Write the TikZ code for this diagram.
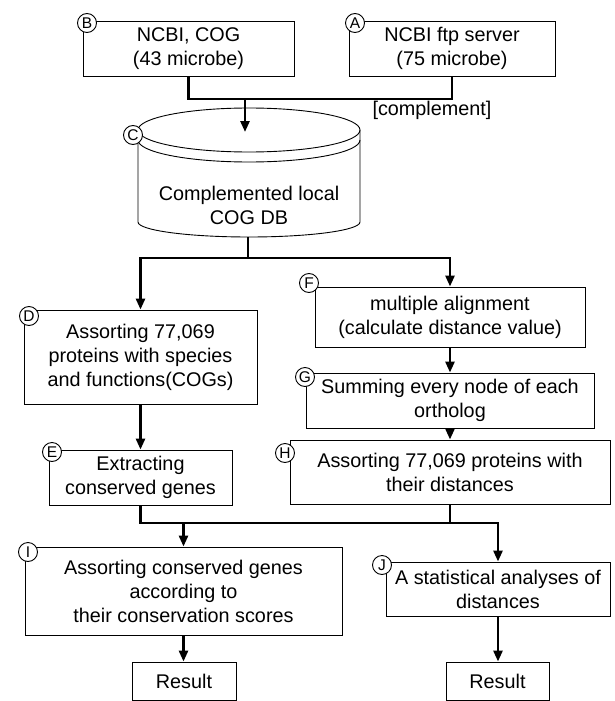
\documentclass[tikz,border=0pt]{standalone}
\usepackage{fontspec}
\setmainfont{Liberation Sans}
\usetikzlibrary{arrows.meta}
\begin{document}
\begin{tikzpicture}[x=1pt,y=-1pt,
  txt/.style={align=center, inner sep=0pt, font=\fontsize{19.8}{24}\selectfont},
  box/.style={txt, draw, line width=0.9pt},
  tag/.style={draw, circle, fill=white, line width=0.9pt, minimum size=19pt, inner sep=0pt, font=\fontsize{15.5}{15.5}\selectfont},
  conn/.style={line width=2.6pt},
  arr/.style={line width=2.6pt, -{Triangle[length=11pt,width=9pt]}},
]
\useasboundingbox (0,0) rectangle (614,701);

% boxes
\node[box, minimum width=211pt, minimum height=55pt] (B) at (188.5,48.5) {NCBI, COG\\(43 microbe)};
\node[box, minimum width=206pt, minimum height=55pt] (A) at (452,48.5) {NCBI ftp server\\(75 microbe)};

% cylinder C
\draw[line width=0.9pt] (249,130) ellipse [x radius=111pt, y radius=22pt];
\draw[line width=0.9pt] (138,140) arc[start angle=180, end angle=360, x radius=111pt, y radius=22pt];
\draw[line width=0.9pt] (138,130) -- (138,222) arc[start angle=180, end angle=360, x radius=111pt, y radius=15pt] -- (360,130);
\node[txt] (C) at (249,205.5) {Complemented local\\COG DB};
\coordinate (Cin) at (245,132);
\coordinate (Cout) at (248,237);

\node[box, minimum width=233pt, minimum height=94pt] (D) at (140.5,357) {Assorting 77,069\\proteins with species\\and functions(COGs)};
\node[box, minimum width=270pt, minimum height=60pt] (F) at (450,317) {multiple alignment\\(calculate distance value)};
\node[box, minimum width=288pt, minimum height=55pt] (G) at (450,400.5) {Summing every node of each\\ortholog};
\node[box, minimum width=183pt, minimum height=55pt] (E) at (140.5,477.5) {Extracting\\conserved genes};
\node[box, minimum width=320pt, minimum height=64pt] (H) at (450,472) {Assorting 77,069 proteins with\\their distances};
\node[box, minimum width=317pt, minimum height=88pt] (I) at (183.5,591) {Assorting conserved genes\\according to\\their conservation scores};
\node[box, minimum width=224pt, minimum height=54pt] (J) at (498,589) {A statistical analyses of\\distances};
\node[box, minimum width=104pt, minimum height=38pt] (R1) at (184,681) {Result};
\node[box, minimum width=103pt, minimum height=38pt] (R2) at (497.5,681) {Result};

\node[txt] (comp) at (432,110) {[complement]};

% connectors
\coordinate (j1) at (245,99);
\draw[conn] (B.south) |- (A.south |- j1) -- (A.south);
\draw[arr] (j1) -- (Cin);

\coordinate (j2) at (248,258);
\draw[conn] (Cout) -- (j2);
\draw[arr] (j2) -| (D.north);
\draw[arr] (j2) -| (F.north);
\draw[arr] (D.south) -- (E.north);
\draw[arr] (F.south) -- (G.north);
\draw[arr] (G.south) -- (H.north);

\coordinate (j3) at (183.5,523);
\draw[conn] (E.south) |- (H.south |- j3) -- (H.south);
\draw[arr] (H.south |- j3) -| (J.north);
\draw[arr] (j3) -- (I.north);
\draw[arr] (I.south) -- (I.south |- R1.north);
\draw[arr] (J.south) -- (J.south |- R2.north);

% tags
\node[tag] (tB) at (87,23) {B};
\node[tag] (tA) at (355,23) {A};
\node[tag] (tC) at (133,135) {C};
\node[tag] (tD) at (29,316) {D};
\node[tag] (tF) at (309,283) {F};
\node[tag] (tG) at (305,377) {G};
\node[tag] (tE) at (52,452) {E};
\node[tag] (tH) at (285,453) {H};
\node[tag] (tI) at (28,552) {I};
\node[tag] (tJ) at (382,565) {J};
\end{tikzpicture}
\end{document}
